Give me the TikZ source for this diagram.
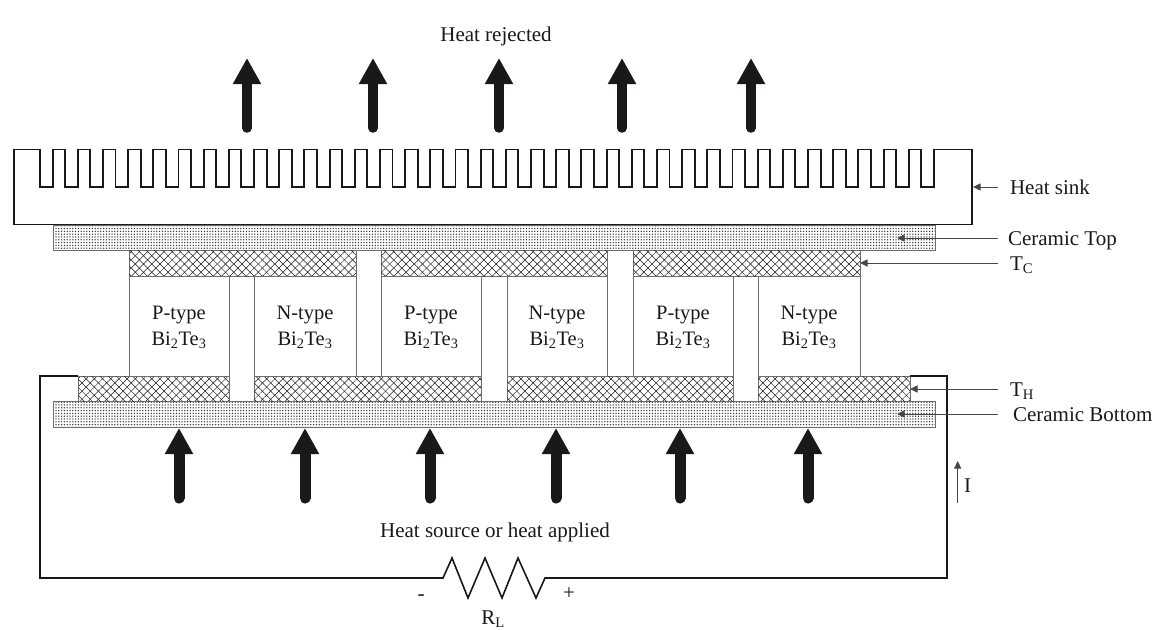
\documentclass[tikz,border=0pt]{standalone}
\usepackage{fontspec}
\setmainfont{Liberation Serif}
\usetikzlibrary{arrows.meta,patterns.meta,positioning}
\definecolor{ink}{HTML}{1A1818}
\definecolor{edge}{HTML}{6E6E6E}
\tikzset{
  x=1pt,y=-1pt,
  wire/.style={draw=ink,line width=1.6pt,line join=miter},
  sinkline/.style={draw=ink,line width=1.9pt,line join=miter},
  blockbox/.style={anchor=north west,inner sep=0pt,outer sep=0pt},
  ceramic/.style={blockbox,draw=edge,line width=.9pt,pattern={Dots[distance=2.8pt,radius=.75pt]},pattern color=ink!85},
  hatched/.style={blockbox,draw=edge,line width=1pt,pattern={Lines[angle=45,distance=5.8pt,line width=.5pt]},pattern color=ink},
  hatchedb/.style={hatched,postaction={pattern={Lines[angle=-45,distance=5.8pt,line width=.5pt]},pattern color=ink}},
  leg/.style={blockbox,draw=edge,line width=.9pt,align=center,font=\fontsize{20.5}{26.5}\selectfont,text=ink},
  label/.style={inner sep=0pt,outer sep=0pt,anchor=base west,font=\fontsize{21}{24}\selectfont,text=ink},
  clabel/.style={label,anchor=base},
  lead/.style={draw=ink!80,line width=.9pt,-{Triangle[length=7.5pt,width=7pt]}},
  heatarrow/.style={draw=ink,line width=11pt,line cap=round,-{Triangle[length=26pt,width=26.5pt]}},
  heatarrowsmall/.style={heatarrow,line width=9.5pt,-{Triangle[length=26pt,width=26.5pt]}}
}
\newcommand{\blk}[7]{\node[#6,minimum width={(#4-#2)*1pt},minimum height={(#5-#3)*1pt}] (#1) at (#2,#3) {#7};}
\newcommand{\pn}[1]{\rule{0pt}{16.5pt}#1-type\\Bi\textsubscript{2}Te\textsubscript{3}}
\begin{document}
\begin{tikzpicture}
\useasboundingbox (0,0) rectangle (1161,629);
% heat sink
\draw[sinkline] (14,224.5) -- (14,149.5) -- (40,149.5)
  foreach \k in {0,...,35} { -- ({40+25.18*\k},187) -- ({52.6+25.18*\k},187) -- ({52.6+25.18*\k},149.5) -- ({65.18+25.18*\k},149.5) }
  -- (972,149.5) -- (972,224.5) -- cycle;
% ceramic plates
\blk{ctop}{53.5}{225}{935}{250.5}{ceramic}{}
\blk{cbot}{53.5}{401.5}{935}{427.5}{ceramic}{}
% top hatched conductors
\blk{t1}{129}{250.5}{356}{276}{hatchedb}{}
\blk{t2}{381}{250.5}{607}{276}{hatchedb}{}
\blk{t3}{633}{250.5}{860}{276}{hatchedb}{}
% gaps between top conductors
\draw[draw=edge,line width=.8pt] (t1.north east) -- (t2.north west) (t2.north east) -- (t3.north west);
% bottom hatched conductors
\blk{b1}{78}{376}{229}{401.5}{hatchedb}{}
\blk{b2}{254}{376}{481}{401.5}{hatchedb}{}
\blk{b3}{507}{376}{733}{401.5}{hatchedb}{}
\blk{b4}{758}{376}{910}{401.5}{hatchedb}{}
% legs
\blk{l1}{129}{276}{229}{376}{leg}{\pn{P}}
\blk{l2}{254}{276}{356}{376}{leg}{\pn{N}}
\blk{l3}{381}{276}{481}{376}{leg}{\pn{P}}
\blk{l4}{507}{276}{607}{376}{leg}{\pn{N}}
\blk{l5}{633}{276}{733}{376}{leg}{\pn{P}}
\blk{l6}{758}{276}{860}{376}{leg}{\pn{N}}
% circuit
\coordinate (rIn) at (443,578);
\coordinate (rOut) at (545,578);
\draw[wire] (b1.north west) -- (40,376) -- (40,578) -- (rIn) -- (452,558) -- (468,598) -- (485,558) -- (502,598) -- (518,558) -- (536,598) -- (rOut) -- (947,578) -- (947,376) -- (b4.north east);
% heat arrows, top
\foreach \n/\x in {a/247,b/373,c/499,d/622,e/751}{
  \coordinate (up\n s) at (\x,128);
  \coordinate (up\n t) at (\x,58);
  \draw[heatarrowsmall] (up\n s) -- (up\n t);
}
% heat arrows, bottom
\foreach \n/\x in {a/179,b/305,c/430,d/556,e/680,f/808}{
  \coordinate (dn\n s) at (\x,498);
  \coordinate (dn\n t) at (\x,428);
  \draw[heatarrow] (dn\n s) -- (dn\n t);
}
% labels
\node[clabel] (rej) at (496,41) {Heat rejected};
\node[clabel] (src) at (495,537) {Heat source or heat applied};
\node[label] (lsink) at (1010,194) {Heat sink};
\node[label] (lctop) at (1008,245.5) {Ceramic Top};
\node[label] (ltc) at (1010,270) {T\textsubscript{C}};
\node[label] (lth) at (1010,396) {T\textsubscript{H}};
\node[label] (lcbot) at (1013,421.5) {Ceramic Bottom};
\node[label] (li) at (964,492.5) {I};
\node[clabel] (minus) at (421,600) {-};
\node[clabel] (plus) at (569,599) {+};
\node[clabel] (rl) at (493,624) {R\textsubscript{L}};
% leaders
\coordinate (psink) at (973,187);
\coordinate (pctop) at (897,238);
\coordinate (ptc) at (860,263);
\coordinate (pth) at (910,389);
\coordinate (pcbot) at (897,414);
\coordinate (is) at (957.7,503);
\coordinate (it) at (957.7,461);
\draw[lead] (998,187) -- (psink);
\draw[lead] (998,238) -- (pctop);
\draw[lead] (998,263) -- (ptc);
\draw[lead] (998,389) -- (pth);
\draw[lead] (998,414) -- (pcbot);
\draw[lead] (is) -- (it);
\end{tikzpicture}
\end{document}
